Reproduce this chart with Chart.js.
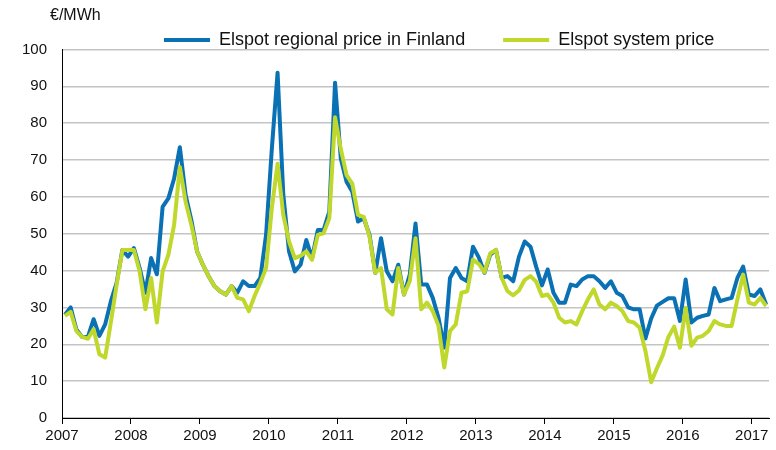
<!DOCTYPE html>
<html>
<head>
<meta charset="utf-8">
<script src="https://cdn.jsdelivr.net/npm/chart.js@4"></script>
<style>
  body { margin: 0; background: #fff; }
</style>
</head>
<body>
<canvas id="chart" width="776" height="450"></canvas>
<script>
// Monthly prices, Jan 2007 - Mar 2017 (€/MWh)
const yearLabels = ["2007", "2008", "2009", "2010", "2011", "2012", "2013", "2014", "2015", "2016", "2017"];

const finlandPrice = [
  28, 30, 24, 22, 22, 26.8, 22.3, 25.4, 31.7, 36.7, 45.6, 43.8,
  46.1, 40.7, 34, 43.4, 39, 57.3, 59.6, 65, 73.5, 60.5, 53.7, 45.2,
  41.6, 38.5, 35.8, 34.4, 33.5, 35.8, 34, 37.1, 35.8, 35.8, 38, 49.7,
  73, 93.7, 60.5, 45.2, 39.8, 41.6, 48.3, 43.4, 51, 51, 56, 91,
  70.4, 64.1, 61.4, 53.3, 54.2, 49.7, 39.4, 48.8, 39.8, 37.1, 41.6, 33.5,
  38.9, 52.8, 36.2, 36.2, 32.6, 27.2, 19.1, 38, 40.7, 38, 37.1, 46.5,
  43.6, 39.4, 44.3, 45.6, 38, 38.5, 37.1, 43.8, 47.9, 46.5, 41, 36,
  40.3, 34, 31.3, 31.3, 36.2, 35.8, 37.6, 38.5, 38.5, 37.1, 35.3, 37.1,
  34, 33.1, 30, 29.5, 29.5, 21.6, 27, 30.5, 31.5, 32.5, 32.5, 26.3,
  37.6, 25.9, 27.2, 27.7, 28.1, 35.3, 31.7, 32.2, 32.6, 38, 41.1, 33.5,
  33.1, 34.9, 30.8
];

const systemPrice = [
  27.7, 28.8, 23.6, 22, 21.5, 24.1, 17.3, 16.4, 26, 36.2, 45.6, 45.6,
  45.6, 39.8, 29.5, 38, 25.9, 39.8, 44.3, 52.4, 68.1, 58.7, 52.4, 45.2,
  41.6, 38.5, 35.8, 34.4, 33.5, 35.8, 32.6, 32.2, 29, 33.1, 36.7, 40.7,
  56.9, 69, 55.1, 47.9, 43.4, 44, 45.2, 42.9, 49.7, 50.1, 54.2, 81.6,
  73, 65.9, 63.6, 55.1, 54.6, 49.2, 39.4, 40.7, 29.5, 28.1, 40.7, 33.5,
  37.1, 48.8, 29.5, 31.3, 29, 25, 13.7, 23.6, 25.4, 34, 34.4, 43,
  41.8, 39.6, 44.7, 45.6, 38, 34.4, 33.3, 34.6, 37.5, 38.5, 37, 33.1,
  33.5, 31.3, 27.2, 25.9, 26.3, 25.4, 29, 32.2, 34.9, 30.8, 29.5, 31.3,
  30.4, 29, 26.3, 25.9, 24.5, 18.2, 9.7, 13.5, 17, 22, 24.8, 19.1,
  29.9, 19.6, 21.8, 22.3, 23.6, 26.3, 25.4, 25, 25, 32.2, 38.9, 31.3,
  30.8, 32.6, 30.4
];

const seriesNames = ["Elspot regional price in Finland", "Elspot system price"];
const unitLabel = "€/MWh";

const blue = "#0a71b4";
const green = "#c0d72c";

Chart.defaults.font.family = '"Liberation Sans", Arial, sans-serif';
Chart.defaults.color = "#111";

// each month sits in the middle of its slot, years are tick boundaries
const toPoints = (values) => values.map((v, i) => ({ x: i + 0.5, y: v }));

// nudge the legend and draw the unit text above the y axis
const layoutTweaks = {
  id: "layoutTweaks",
  afterLayout(chart) {
    const legend = chart.legend;
    legend.left += 119;
    legend.right += 119;
    legend.top -= 7; // only the top, so the legend clip box keeps the text
  },
  afterDraw(chart) {
    const ctx = chart.ctx;
    ctx.save();
    ctx.font = '16px "Liberation Sans", Arial, sans-serif';
    ctx.fillStyle = "#111";
    ctx.textAlign = "left";
    ctx.textBaseline = "middle";
    ctx.fillText(unitLabel, 50, 16);
    ctx.restore();
  },
};

new Chart(document.getElementById("chart"), {
  type: "line",
  data: {
    datasets: [
      {
        label: seriesNames[0],
        data: toPoints(finlandPrice),
        borderColor: blue,
        backgroundColor: blue,
        borderWidth: 4,
        order: 2,
      },
      {
        label: seriesNames[1],
        data: toPoints(systemPrice),
        borderColor: green,
        backgroundColor: green,
        borderWidth: 4,
        order: 1,
      },
    ],
  },
  options: {
    responsive: false,
    animation: false,
    layout: { padding: { left: 7, right: 7, top: 0, bottom: 2 } },
    elements: {
      point: { radius: 0 },
      line: { tension: 0, borderJoinStyle: "round" },
    },
    plugins: {
      tooltip: { enabled: false },
      legend: {
        position: "top",
        align: "start",
        maxHeight: 49.5,
        labels: {
          boxWidth: 46,
          boxHeight: 4,
          padding: 38,
          font: { size: 18 },
          color: "#111",
          sort: (a, b) => a.datasetIndex - b.datasetIndex,
          generateLabels: (chart) =>
            Chart.defaults.plugins.legend.labels.generateLabels(chart).map((item) => ({
              ...item,
              lineWidth: 0,
            })),
        },
      },
    },
    scales: {
      x: {
        type: "linear",
        min: 0,
        max: finlandPrice.length,
        afterBuildTicks: (axis) => {
          axis.ticks = yearLabels.map((_, k) => ({ value: k * 12 }));
        },
        ticks: {
          autoSkip: false,
          maxRotation: 0,
          padding: 3,
          font: { size: 15 },
          callback: (value) => yearLabels[Math.round(value / 12)],
        },
        grid: { drawOnChartArea: false, drawTicks: true, tickLength: 6, color: "#000" },
        border: { color: "#000", width: 1 },
      },
      y: {
        min: 0,
        max: 100,
        ticks: { stepSize: 10, padding: 15, font: { size: 15 } },
        grid: { drawTicks: false, color: "#c4c4c4", lineWidth: 1.5 },
        border: { color: "#000", width: 1 },
      },
    },
  },
  plugins: [layoutTweaks],
});
</script>
</body>
</html>
